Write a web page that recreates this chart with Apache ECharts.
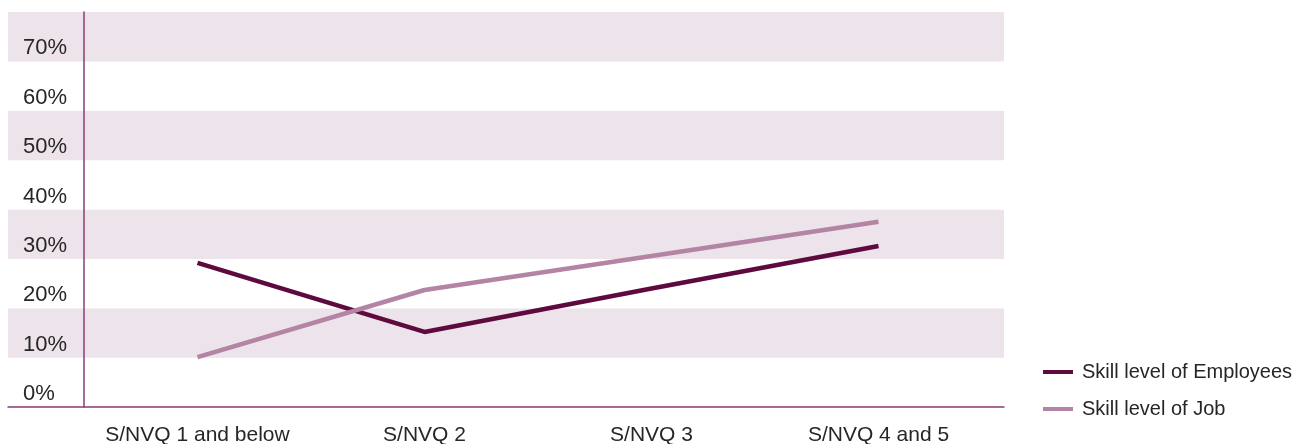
<!DOCTYPE html>
<html><head><meta charset="utf-8">
<script src="https://cdn.jsdelivr.net/npm/echarts@6/dist/echarts.min.js"></script>
<style>html,body{margin:0;padding:0;background:#fff}#c{width:1298px;height:444px}</style>
</head><body><div id="c"></div>
<script>
const categories = ['S/NVQ 1 and below', 'S/NVQ 2', 'S/NVQ 3', 'S/NVQ 4 and 5'];
const employees = [29.2, 15.2, 24.0, 32.6];
const job = [10.1, 23.7, 30.6, 37.5];
const seriesNames = ['Skill level of Employees', 'Skill level of Job'];

const FONT = '"Liberation Sans", Arial, sans-serif';
const AXIS = '#8b3d73';
const TXT = '#262626';
const chart = echarts.init(document.getElementById('c'));
chart.setOption({
  animation: false,
  textStyle: { fontFamily: FONT },
  grid: [
    { left: 8, right: 294, top: 12, bottom: 37, outerBoundsMode: 'none', containLabel: false },
    { left: 84, width: 908, top: 12, bottom: 37, outerBoundsMode: 'none', containLabel: false }
  ],
  xAxis: [
    { gridIndex: 0, type: 'value', min: 0, max: 1, axisLine: { show: true, lineStyle: { color: AXIS, width: 1.5 } },
      axisTick: { show: false }, axisLabel: { show: false }, splitLine: { show: false } },
    { gridIndex: 1, type: 'category', data: categories, boundaryGap: true,
      axisLine: { show: false }, axisTick: { show: false },
      axisLabel: { interval: 0, color: TXT, fontSize: 21, margin: 18, fontFamily: FONT } }
  ],
  yAxis: [
    { gridIndex: 0, type: 'value', min: 0, max: 80, interval: 10,
      axisLine: { show: false }, axisTick: { show: false }, axisLabel: { show: false },
      splitLine: { show: false },
      splitArea: { show: true, areaStyle: { color: ['#ffffff', '#ede3ea'] } } },
    { gridIndex: 1, type: 'value', min: 0, max: 80, interval: 10,
      axisLine: { show: true, lineStyle: { color: AXIS, width: 1.5 } },
      axisTick: { show: false }, splitLine: { show: false },
      axisLabel: { showMaxLabel: false, color: TXT, fontSize: 22, fontFamily: FONT,
        align: 'left', margin: 61, verticalAlign: 'bottom', padding: [0, 0, 2, 0],
        formatter: v => v + '%' } }
  ],
  legend: {
    orient: 'vertical', left: 1038, top: 357, itemWidth: 30, itemHeight: 4, itemGap: 17,
    icon: 'rect', textStyle: { fontSize: 20, color: TXT, fontFamily: FONT, padding: [0, 0, 0, 4] },
    data: seriesNames
  },
  series: [
    { name: seriesNames[0], type: 'line', xAxisIndex: 1, yAxisIndex: 1, data: employees,
      symbol: 'none', lineStyle: { color: '#5e0a3f', width: 4.5 }, itemStyle: { color: '#5e0a3f' } },
    { name: seriesNames[1], type: 'line', xAxisIndex: 1, yAxisIndex: 1, data: job,
      symbol: 'none', lineStyle: { color: '#b384a3', width: 4.5 }, itemStyle: { color: '#b384a3' } }
  ]
});
</script></body></html>
